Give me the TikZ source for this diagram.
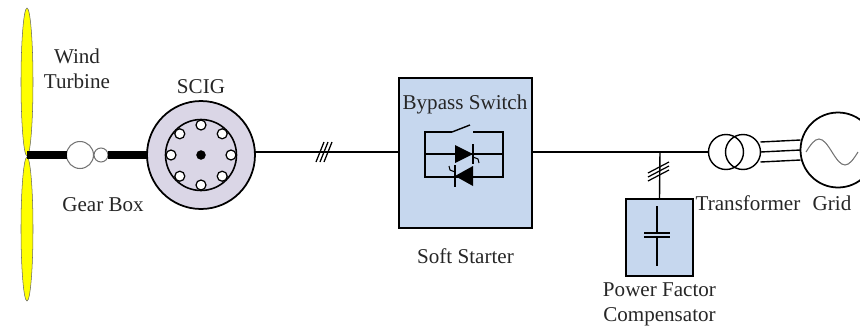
\documentclass[tikz,border=0pt]{standalone}
\usepackage{fontspec}
\setmainfont{Liberation Serif}
\usetikzlibrary{positioning,calc}

\definecolor{bladeyellow}{RGB}{255,255,0}
\definecolor{machine}{RGB}{218,214,230}
\definecolor{boxblue}{RGB}{198,215,238}

\tikzset{
  lbl/.style={font=\fontsize{12}{14}\selectfont, text=black!85, align=center, inner sep=1pt},
  ring/.style={circle, draw, inner sep=0pt, outer sep=0pt},
  gear/.style={ring, draw=black!55, fill=white, line width=0.6pt},
  hole/.style={ring, fill=white, line width=0.7pt, minimum size=0.2cm},
  unit/.style={rectangle, draw, fill=boxblue, line width=0.8pt, inner sep=0pt},
  shaft/.style={line width=4.5pt},
  wire/.style={line width=0.8pt}
}

\begin{document}
\begin{tikzpicture}[x=0.02cm, y=-0.02cm, line width=0.8pt]
  \path[use as bounding box, clip] (0,0) rectangle (860,329);

  % blades
  \draw[fill=bladeyellow, draw=black!60, line width=0.3pt] (27,82) ellipse (6 and 74);
  \draw[fill=bladeyellow, draw=black!60, line width=0.3pt] (27,229) ellipse (6 and 72);
  \coordinate (hub) at (27,155);

  % gear box and generator
  \node[gear, minimum size=0.54cm] (g1) at (80,155) {};
  \node[gear, minimum size=0.28cm] (g2) at (101,155) {};
  \node[ring, fill=machine, line width=1pt, minimum size=2.16cm] (scig) at (201,155) {};
  \node[ring, line width=0.9pt, minimum size=1.42cm] (rotor) at (scig) {};
  \foreach \a in {0,45,...,315}
    \node[hole] at ($(scig)+(\a:30)$) {};
  \node[ring, fill=black, minimum size=0.16cm] (axis) at (scig) {};
  \draw[shaft] (hub) -- (g1.west);
  \draw[shaft] (g2.east) -- (scig.west);

  % soft starter and compensator
  \node[unit, minimum width=2.66cm, minimum height=3cm] (starter) at (465.5,153) {};
  \node[unit, minimum width=1.34cm, minimum height=1.54cm] (pfc) at (659.5,237.5) {};
  \coordinate (tap) at (660,152);

  % transformer and grid
  \node[ring, minimum size=0.7cm] (t1) at (726,152) {};
  \node[ring, minimum size=0.7cm] (t2) at (743,152) {};
  \node[ring, line width=1pt, minimum size=1.5cm] (grid) at (838,150) {};

  % wiring
  \draw[wire] (scig.east |- tap) -- (starter.west |- tap);
  \draw[wire] (starter.east |- tap) -- (t1.west);
  \draw[wire] (tap) -- (pfc.north);
  \foreach \d in {-10,0,10}
    \draw[wire] ([yshift=\d*0.02cm]t2.east) -- ([yshift=\d*0.02cm]grid.west);
  \foreach \dx in {0,4,8}
    \draw[line width=0.7pt] (316+\dx,162) -- (324+\dx,142);
  \foreach \dy in {-4,0,4}
    \draw[line width=0.7pt] (648,177+\dy) -- (669,166+\dy);

  % bypass switch with antiparallel thyristors
  \draw (452,132) -- (425,132) -- (425,177) -- (503,177) -- (503,132) -- (473,132);
  \draw (452,132) -- (470,125);
  \draw (425,154) -- (503,154);
  \fill (455,145) -- (473,154) -- (455,163) -- cycle;
  \draw (473,144) -- (473,164);
  \draw[line width=0.6pt] (473,157) -- (478,159) -- (479,163);
  \fill (473,166) -- (455,176) -- (473,186) -- cycle;
  \draw (455,165) -- (455,187);
  \draw[line width=0.6pt] (455,172) -- (450,170) -- (449,166);

  % capacitor
  \draw (657,206) -- (657,233) (657,237) -- (657,266);
  \draw[line width=1pt] (644,233) -- (670,233) (644,237) -- (670,237);

  % grid source
  \draw[black!55, line width=0.6pt] (806,152) sin (819,139) cos (832,152) sin (845,165) cos (858,152);

  % labels
  \node[lbl] (wtlabel) at (77,69) {Wind\\Turbine};
  \node[lbl, above=3pt of scig] (sciglabel) {SCIG};
  \node[lbl] (gblabel) at (103,205) {Gear Box};
  \node[lbl] (bplabel) at (465,104) {Bypass Switch};
  \node[lbl, below=10pt of starter] (sslabel) {Soft Starter};
  \node[lbl] (trlabel) at (748,203) {Transformer};
  \node[lbl] (grlabel) at (832,203) {Grid};
  \node[lbl, below=2pt of pfc] (pfclabel) {Power Factor\\Compensator};
\end{tikzpicture}
\end{document}
